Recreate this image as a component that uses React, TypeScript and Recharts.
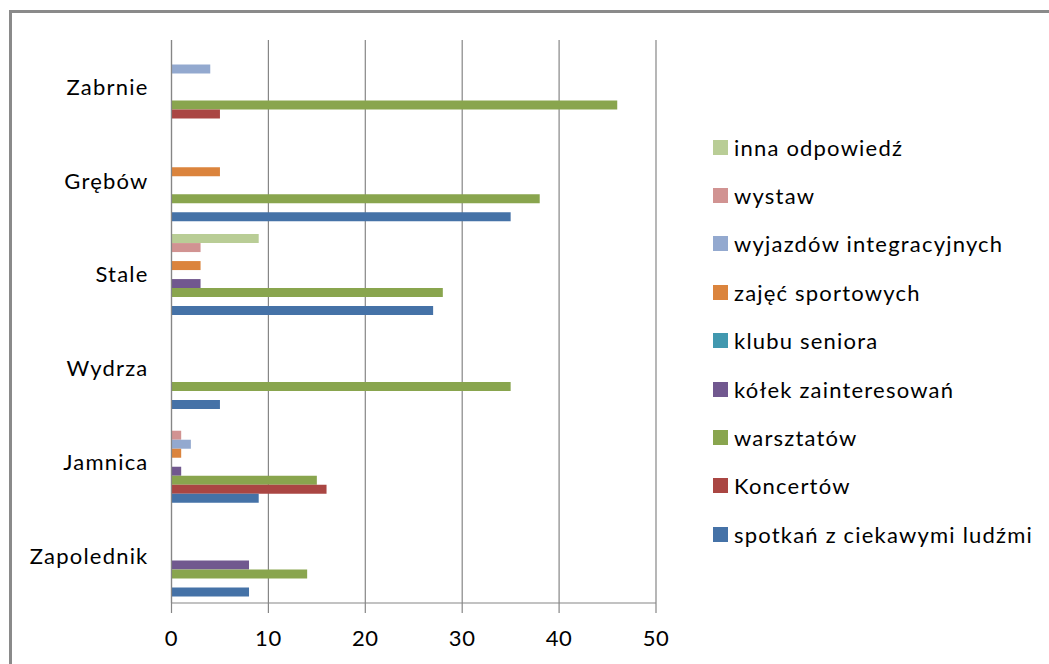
import { BarChart, Bar, XAxis, YAxis, CartesianGrid, Legend } from 'recharts';

const places = ['Zabrnie', 'Grębów', 'Stale', 'Wydrza', 'Jamnica', 'Zapolednik'];
const spotkan = [0, 35, 27, 5, 9, 8];
const koncertow = [5, 0, 0, 0, 16, 0];
const warsztatow = [46, 38, 28, 35, 15, 14];
const kolek = [0, 0, 3, 0, 1, 8];
const klubu = [0, 0, 0, 0, 0, 0];
const zajec = [0, 5, 3, 0, 1, 0];
const wyjazdow = [4, 0, 0, 0, 2, 0];
const wystaw = [0, 0, 3, 0, 1, 0];
const inna = [0, 0, 9, 0, 0, 0];
const xTicks = [0, 10, 20, 30, 40, 50];
const bandEdges = [0, 1, 2, 3, 4, 5, 6];

// top of each band first, so legend reads the same way as Excel's
const series = [
  { key: 'inna', name: 'inna odpowiedź', color: '#B9CD96', values: inna },
  { key: 'wystaw', name: 'wystaw', color: '#D19392', values: wystaw },
  { key: 'wyjazdow', name: 'wyjazdów integracyjnych', color: '#93A9CF', values: wyjazdow },
  { key: 'zajec', name: 'zajęć sportowych', color: '#DB843D', values: zajec },
  { key: 'klubu', name: 'klubu seniora', color: '#4198AF', values: klubu },
  { key: 'kolek', name: 'kółek zainteresowań', color: '#71588F', values: kolek },
  { key: 'warsztatow', name: 'warsztatów', color: '#89A54E', values: warsztatow },
  { key: 'koncertow', name: 'Koncertów', color: '#AA4643', values: koncertow },
  { key: 'spotkan', name: 'spotkań z ciekawymi ludźmi', color: '#4572A7', values: spotkan },
];

const data = places.map((name, i) => {
  const row: Record<string, string | number> = { name };
  series.forEach((s) => {
    row[s.key] = s.values[i];
  });
  return row;
});

const axisGray = '#868686';

// recharts 3 sorts legend items by name, so list them straight from `series`
const renderLegend = () => (
  <div style={{ fontFamily: 'Lato', fontSize: 22, letterSpacing: 1.2, color: '#000' }}>
    {series.map((s) => (
      <div key={s.key} style={{ display: 'flex', alignItems: 'center', height: 48.4 }}>
        <span style={{ width: 15, height: 15, background: s.color, marginRight: 6, flexShrink: 0 }} />
        <span style={{ whiteSpace: 'nowrap' }}>{s.name}</span>
      </div>
    ))}
  </div>
);

const App = () => {
  return (
    <div style={{ position: 'absolute', left: 0, top: 0, width: 1049, height: 664, background: '#fff', fontFamily: 'Lato' }}>
      <div
        style={{
          position: 'absolute',
          left: 9,
          top: 10,
          right: 0,
          bottom: 0,
          borderTop: '3px solid #8a8a8a',
          borderLeft: '3px solid #8a8a8a',
        }}
      />
      <div style={{ position: 'absolute', left: 0, top: 0 }}>
        <BarChart
          width={1049}
          height={664}
          data={data}
          layout="vertical"
          margin={{ top: 40, right: 393, bottom: 11, left: 11.5 }}
          barCategoryGap={6.4}
          barGap={0}
        >
          <CartesianGrid horizontal={false} stroke={axisGray} strokeWidth={1.2} />
          <XAxis
            type="number"
            domain={[0, 50]}
            ticks={xTicks}
            interval={0}
            height={50}
            tickSize={10}
            tickMargin={17}
            axisLine={{ stroke: axisGray, strokeWidth: 1.2 }}
            tickLine={{ stroke: axisGray, strokeWidth: 1.2 }}
            tick={{ fill: '#000', fontSize: 22, letterSpacing: 0.6 }}
          />
          <YAxis
            yAxisId="bounds"
            type="number"
            domain={[0, 6]}
            ticks={bandEdges}
            allowDataOverflow
            width={0}
            tick={false}
            tickSize={8}
            axisLine={false}
            tickLine={{ stroke: axisGray, strokeWidth: 1.2 }}
          />
          <YAxis
            type="category"
            dataKey="name"
            width={160}
            tickSize={0}
            tickMargin={23}
            interval={0}
            axisLine={{ stroke: axisGray, strokeWidth: 1.2 }}
            tickLine={false}
            tick={{ fill: '#000', fontSize: 22, letterSpacing: 1.2 }}
          />
          <Legend
            layout="horizontal"
            verticalAlign="middle"
            align="center"
            content={renderLegend}
            wrapperStyle={{ left: 713, top: 123, width: 336 }}
          />
          {series.map((s) => (
            <Bar key={s.key} dataKey={s.key} name={s.name} fill={s.color} isAnimationActive={false} />
          ))}
        </BarChart>
      </div>
    </div>
  );
};

export default App;
